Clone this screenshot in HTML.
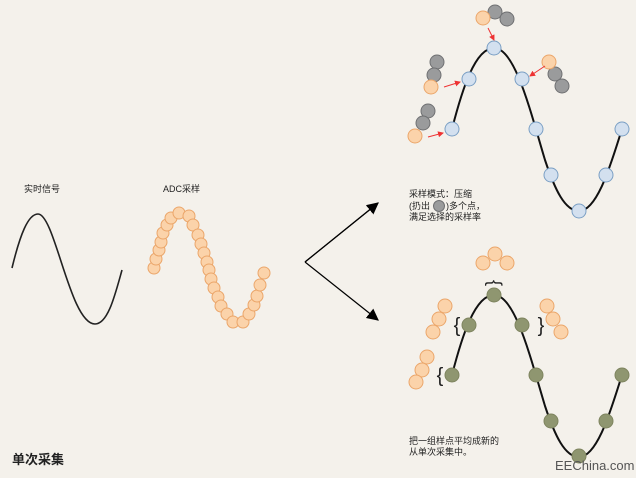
<!DOCTYPE html>
<html><head><meta charset="utf-8"><style>
body{margin:0;background:#f4f1eb}
svg{display:block}
text{font-family:"Liberation Sans","Noto Sans CJK SC",sans-serif;fill:#222}
</style></head><body>
<svg width="636" height="478" viewBox="0 0 636 478" xmlns="http://www.w3.org/2000/svg">
<rect width="636" height="478" fill="#f4f1eb"/>
<defs><marker id="ah" markerWidth="10" markerHeight="10" refX="9" refY="5" orient="auto"><path d="M0,0 L10,5 L0,10 z" fill="#000"/></marker>
<marker id="ra" markerWidth="6" markerHeight="6" refX="5" refY="3" orient="auto"><path d="M0,0 L6,3 L0,6 z" fill="#e33"/></marker></defs>
<text x="24" y="192" font-size="9">实时信号</text>
<text x="163" y="192" font-size="9">ADC采样</text>
<path d="M12,268 C20,235 28,214 38,214 C55,214 70,324 95,324 C108,324 115,295 122,270" fill="none" stroke="#222" stroke-width="1.6"/>
<g fill="#fbd3aa" stroke="#eba66a" stroke-width="1">
<circle cx="154" cy="268" r="6"/><circle cx="156" cy="259" r="6"/><circle cx="159" cy="250" r="6"/><circle cx="161" cy="242" r="6"/><circle cx="163" cy="233" r="6"/><circle cx="167" cy="225" r="6"/><circle cx="171" cy="218" r="6"/><circle cx="179" cy="213" r="6"/><circle cx="189" cy="216" r="6"/><circle cx="193" cy="225" r="6"/><circle cx="198" cy="235" r="6"/><circle cx="201" cy="244" r="6"/><circle cx="204" cy="253" r="6"/><circle cx="207" cy="262" r="6"/><circle cx="209" cy="270" r="6"/><circle cx="211" cy="279" r="6"/><circle cx="214" cy="288" r="6"/><circle cx="218" cy="297" r="6"/><circle cx="221" cy="306" r="6"/><circle cx="227" cy="314" r="6"/><circle cx="233" cy="322" r="6"/><circle cx="243" cy="322" r="6"/><circle cx="249" cy="314" r="6"/><circle cx="254" cy="305" r="6"/><circle cx="257" cy="296" r="6"/><circle cx="260" cy="285" r="6"/><circle cx="264" cy="273" r="6"/>
</g>
<path d="M305,262 L378,203 M305,262 L378,320" stroke="#000" stroke-width="1.2" fill="none" marker-end="url(#ah)"/>
<path d="M305,262 L378,203" stroke="#000" stroke-width="1.2" fill="none" marker-end="url(#ah)"/>
<!-- top curve -->
<path d="M452,129 C462,90 475,48 494,48 C515,48 530,110 545,160 C555,190 565,211 579,211 C598,211 612,160 622,129" fill="none" stroke="#111" stroke-width="2"/>
<g fill="#d3e0ef" stroke="#7a9fc4" stroke-width="1">
<circle cx="452" cy="129" r="7"/><circle cx="469" cy="79" r="7"/><circle cx="494" cy="48" r="7"/><circle cx="522" cy="79" r="7"/><circle cx="536" cy="129" r="7"/><circle cx="551" cy="175" r="7"/><circle cx="579" cy="211" r="7"/><circle cx="606" cy="175" r="7"/><circle cx="622" cy="129" r="7"/>
</g>
<g fill="#9a9b9c" stroke="#6f7072" stroke-width="1">
<circle cx="495" cy="12" r="7"/><circle cx="507" cy="19" r="7"/><circle cx="437" cy="62" r="7"/><circle cx="434" cy="75" r="7"/><circle cx="428" cy="111" r="7"/><circle cx="423" cy="123" r="7"/><circle cx="555" cy="74" r="7"/><circle cx="562" cy="86" r="7"/>
</g>
<g fill="#fbd3aa" stroke="#eba66a" stroke-width="1">
<circle cx="483" cy="18" r="7"/><circle cx="431" cy="87" r="7"/><circle cx="415" cy="136" r="7"/><circle cx="549" cy="62" r="7"/>
</g>
<g stroke="#e33" stroke-width="1" marker-end="url(#ra)">
<line x1="488" y1="28" x2="494" y2="40"/><line x1="444" y1="87" x2="460" y2="82"/><line x1="428" y1="137" x2="443" y2="133"/><line x1="545" y1="66" x2="530" y2="76"/>
</g>
<text x="409" y="197" font-size="9">采样模式：压缩</text>
<text x="409" y="209" font-size="9">(扔出 <tspan fill="none"> </tspan></text>
<circle cx="439" cy="206" r="5.5" fill="#9a9b9c" stroke="#6f7072"/>
<text x="446" y="209" font-size="9">)多个点，</text>
<text x="409" y="220" font-size="9">满足选择的采样率</text>
<!-- bottom curve -->
<path d="M452,375 C462,336 475,295 494,295 C515,295 530,356 545,406 C555,436 565,457 579,457 C598,457 612,406 622,375" fill="none" stroke="#111" stroke-width="2"/>
<g fill="#8f9670" stroke="#7e845f" stroke-width="1">
<circle cx="452" cy="375" r="7"/><circle cx="469" cy="325" r="7"/><circle cx="494" cy="295" r="7"/><circle cx="522" cy="325" r="7"/><circle cx="536" cy="375" r="7"/><circle cx="551" cy="421" r="7"/><circle cx="579" cy="456" r="7"/><circle cx="606" cy="421" r="7"/><circle cx="622" cy="375" r="7"/>
</g>
<g fill="#fbd3aa" stroke="#eba66a" stroke-width="1">
<circle cx="483" cy="263" r="7"/><circle cx="495" cy="254" r="7"/><circle cx="507" cy="263" r="7"/>
<circle cx="445" cy="306" r="7"/><circle cx="439" cy="319" r="7"/><circle cx="433" cy="332" r="7"/>
<circle cx="427" cy="357" r="7"/><circle cx="422" cy="370" r="7"/><circle cx="416" cy="382" r="7"/>
<circle cx="547" cy="306" r="7"/><circle cx="553" cy="319" r="7"/><circle cx="561" cy="332" r="7"/>
</g>
<text x="495" y="289" font-size="18" text-anchor="middle" transform="rotate(90 495 283)">{</text>
<text x="457" y="332" font-size="20" text-anchor="middle">{</text>
<text x="440" y="382" font-size="20" text-anchor="middle">{</text>
<text x="541" y="332" font-size="20" text-anchor="middle">}</text>
<text x="409" y="444" font-size="9">把一组样点平均成新的</text>
<text x="409" y="455" font-size="9">从单次采集中。</text>
<text x="555" y="470" font-size="13" fill="#555" style="fill:#555">EEChina.com</text>
<text x="12" y="464" font-size="13" font-weight="bold">单次采集</text>
</svg>
</body></html>
